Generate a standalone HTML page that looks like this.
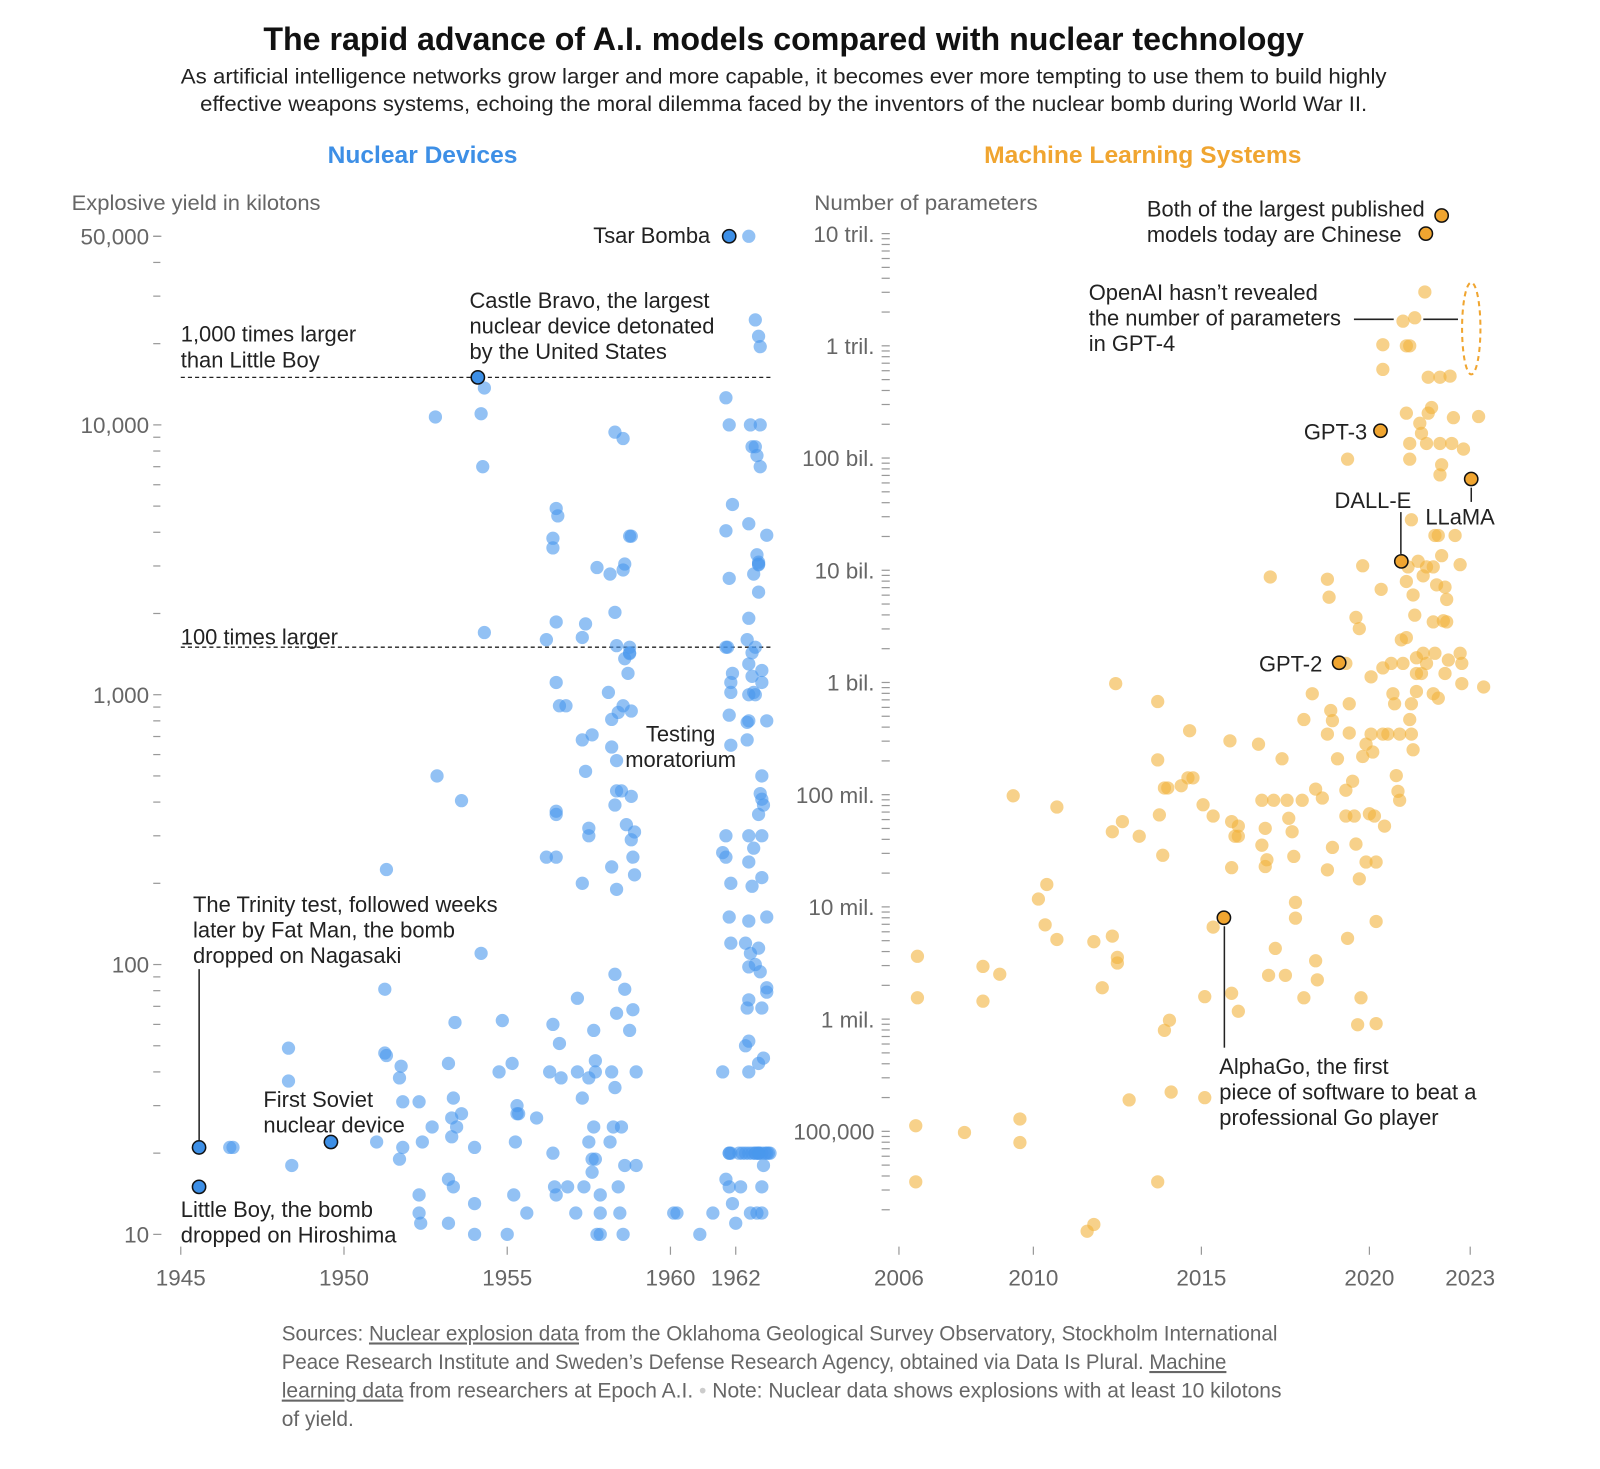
<!DOCTYPE html>
<html><head><meta charset="utf-8">
<style>
html,body{margin:0;padding:0;background:#fff;}
svg{display:block;font-family:"Liberation Sans",Arial,sans-serif;}
.ann{font-size:21.5px;fill:#222;}
.tick{font-size:22px;fill:#666;}
</style></head>
<body>
<svg id="chart" width="1600" height="1469" viewBox="0 0 1568 1440">
<text x="768" y="49" text-anchor="middle" font-size="32" font-weight="bold" fill="#111" textLength="1020" lengthAdjust="spacingAndGlyphs">The rapid advance of A.I. models compared with nuclear technology</text>
<text x="768" y="82" text-anchor="middle" font-size="21" fill="#222" textLength="1182" lengthAdjust="spacingAndGlyphs">As artificial intelligence networks grow larger and more capable, it becomes ever more tempting to use them to build highly</text>
<text x="768" y="109" text-anchor="middle" font-size="21" fill="#222" textLength="1144" lengthAdjust="spacingAndGlyphs">effective weapons systems, echoing the moral dilemma faced by the inventors of the nuclear bomb during World War II.</text>
<text x="414" y="160" text-anchor="middle" font-size="24" font-weight="bold" fill="#3d8fe6" textLength="186" lengthAdjust="spacingAndGlyphs">Nuclear Devices</text>
<text x="1120" y="160" text-anchor="middle" font-size="24" font-weight="bold" fill="#f0a530" textLength="311" lengthAdjust="spacingAndGlyphs">Machine Learning Systems</text>
<text x="70" y="206" font-size="21" fill="#666" textLength="244" lengthAdjust="spacingAndGlyphs">Explosive yield in kilotons</text>
<text x="798" y="206" font-size="21" fill="#666" textLength="219" lengthAdjust="spacingAndGlyphs">Number of parameters</text>
<g id="nuc"></g>
<g id="ml"></g>
<g id="anns"></g>
<g font-size="20.5" fill="#666">
<text x="276" y="1314" textLength="976" lengthAdjust="spacingAndGlyphs">Sources: <tspan text-decoration="underline">Nuclear explosion data</tspan> from the Oklahoma Geological Survey Observatory, Stockholm International</text>
<text x="276" y="1342" textLength="926" lengthAdjust="spacingAndGlyphs">Peace Research Institute and Sweden’s Defense Research Agency, obtained via Data Is Plural. <tspan text-decoration="underline">Machine</tspan></text>
<text x="276" y="1370" textLength="980" lengthAdjust="spacingAndGlyphs"><tspan text-decoration="underline">learning data</tspan> from researchers at Epoch A.I.  <tspan fill="#ccc">•</tspan>  Note: Nuclear data shows explosions with at least 10 kilotons</text>
<text x="276" y="1398">of yield.</text>
</g>
</svg>
<script>
// ---------- Nuclear data ----------
const nucYears = [1946.5,1946.6,1948.3,1948.3,1948.4,1951.25,1951.25,1951.3,1951.3,1951.75,1951.7,1951.8,1952.3,1951.8,1952.3,1951.7,1952.3,1952.35,1952.4,1951.0,
1952.8,1952.85,1952.7,1953.2,1953.35,1953.3,1953.35,1953.45,1953.3,1953.2,1953.4,1953.6,1953.6,1954.0,1953.2,
1954.2,1954.3,1954.25,1954.3,1954.2,1954.0,1954.0,1955.0,
1954.85,1954.75,1955.15,1955.3,1955.35,1955.3,1955.25,1955.2,1955.6,
1956.2,1956.2,1956.5,1956.55,1956.4,1956.4,1956.5,1956.5,1956.6,1956.8,1956.5,1956.5,1956.5,1956.4,1956.6,1956.3,1956.65,1955.9,1956.4,1956.45,1956.5,1956.85,
1957.75,1957.85,1957.75,1957.4,1957.3,1957.6,1957.3,1957.4,1957.5,1957.5,1957.3,1957.15,1957.65,1957.7,1957.7,1957.5,1957.3,1957.15,1957.5,1957.7,1957.6,1957.65,1957.6,1957.35,1957.1,1957.85,
1958.55,1958.45,1958.3,1958.55,1958.6,1958.75,1958.8,1958.55,1958.15,1958.3,1958.35,1958.75,1958.6,1958.75,1958.75,1958.7,1958.1,1958.55,1958.8,1958.4,1958.2,1958.35,1958.2,1958.5,1958.8,1958.35,1958.3,1958.65,1958.9,1958.8,1958.85,1958.2,1958.9,1958.35,1958.3,1958.6,1958.35,1958.85,1958.75,1958.95,1958.2,1958.3,1958.5,1958.25,1958.15,1958.6,1958.95,1958.4,1957.85,
1960.1,1960.2,1960.9,1961.3,
1961.85,1961.8,1961.85,1961.8,1961.7,1961.8,1961.9,1961.7,1961.8,1961.7,1961.75,1961.9,1961.85,1961.85,1961.8,1961.85,1961.7,1961.6,1961.7,1961.8,1961.85,1961.6,
1961.7,1961.8,1961.9,1962.0,1962.1,1962.2,1962.3,1962.4,1962.5,1962.6,1962.7,1962.8,1962.9,1963.0,1963.05,
1962.7,1962.95,1962.6,1962.7,1962.4,1962.6,1962.7,1962.75,1962.45,1962.75,1962.6,1962.5,1962.65,1962.75,1962.4,1962.95,1962.65,1962.7,1962.7,1962.7,1962.55,1962.7,1962.4,1962.35,1962.6,1962.5,1962.4,1962.8,1962.5,1962.8,1962.4,1962.55,1962.6,1962.4,1962.35,1962.95,1962.35,1962.8,1962.75,1962.8,1962.85,1962.7,1962.8,1962.4,1962.55,1962.4,1962.8,1962.5,1962.95,1962.4,1962.3,1962.7,1962.45,1962.6,1962.4,1962.75,1962.95,1962.95,1962.4,1962.35,1962.8,1962.4,1962.3,1962.85,1962.7,1962.4,1962.85,1962.8,1962.15,1962.65,1962.8,1962.45];
const nucYields = [21,21,49,37,18,81,47,46,225,42,38,31,31,21,14,19,12,11,22,22,
10700,500,25,16,15,27,32,25,23,43,61,28,405,10,11,
11000,13700,7000,1700,110,21,13,10,
62,40,43,30,28,28,22,14,12,
250,1600,4900,4600,3800,3500,1860,1110,910,910,370,360,250,60,51,40,38,27,20,15,14,15,10,10,
2960,1830,1630,710,680,520,320,300,200,75,57,40,44,38,32,40,22,19,19,25,17,15,12,12,10,12,
9400,8900,3050,3870,3870,2900,2800,2020,1520,1430,1360,1500,1420,1200,1020,910,870,860,810,570,640,440,420,440,390,330,310,290,250,230,215,190,92,81,66,68,57,40,40,35,25,25,22,18,18,15,14,12,12,10,12,
200,20,20,20,
12600,10000,5070,4050,2700,1500,1500,1200,1110,1020,840,650,300,260,250,150,120,40,16,15,13,11,
20,20,20,20,20,20,20,20,20,20,20,20,20,20,20,
50000,24500,21300,19500,10000,10000,8300,8300,7700,7000,4300,3900,3300,3050,3030,3100,2800,2400,1920,1600,1500,1430,1300,1230,1170,1110,1000,1020,1000,800,790,800,680,500,430,410,390,360,300,300,270,240,210,195,150,145,120,115,110,100,98,94,82,79,74,69,69,52,50,45,43,40,18,15,15,12,12,12,11,10,10,10];
const nucHi = [[1945.56,21,'trinity'],[1945.56,15,'little-boy'],[1949.6,22,'first-soviet'],[1954.1,15000,'castle-bravo'],[1961.8,50000,'tsar-bomba']];
const nucYTicks = [10,100,1000,10000,50000];
const nucYTickLabels = ['10','100','1,000','10,000','50,000'];
const nucXTicks = [1945,1950,1955,1960,1962];

// ---------- ML data ----------
const mlYears = [2006.55,2006.55,2006.5,2006.5,2007.95,2008.5,2008.5,2009,2009.4,2009.6,2009.6,2010.15,2010.4,2010.35,2010.7,2010.7,2011.6,2011.8,2011.8,2012.05,2012.35,2012.35,2012.45,2012.5,2012.5,2012.65,2012.85,2013.15,2013.7,2013.7,2013.75,2013.85,2013.9,2014,2013.9,2014.05,2014.1,2013.7,2014.4,2014.6,2014.75,2014.65,2015.05,2015.35,2015.35,2015.1,2015.1,2015.85,2015.9,2016,2016.1,2016.1,2015.9,2015.9,2016.1,
2017.05,2016.7,2016.8,2016.9,2016.8,2016.9,2016.95,2017.15,2017.2,2017,2017.5,2017.4,2017.55,2017.6,2017.7,2017.75,2017.8,2017.8,2018,2018.05,2018.45,2018.4,2018.3,2018.05,2018.4,2018.6,2018.75,2018.8,2018.75,2018.85,2018.75,2018.9,2018.9,2019.05,2019.3,2019.3,2019.3,2019.35,2019.35,2019.4,2019.4,2019.5,2019.55,2019.6,2019.7,2019.6,2019.7,2019.65,2019.75,2019.8,2019.8,2019.9,2019.9,2020,2020.05,2020.2,2020.05,2020.1,2020.15,2020.2,2020.2,
2020.35,2020.4,2020.4,2020.4,2020.4,2020.55,2020.45,2020.65,2020.7,2020.75,2020.8,2020.85,2020.9,2020.9,2020.95,2021,2021,2021.1,2021.2,2021.1,2021.2,2021.2,2021.25,2021.15,2021.1,2021.3,2021.1,2021.2,2021.25,2021.3,2021.25,2021.35,2021.45,2021.35,2021.4,2021.4,2021.4,2021.5,2021.55,2021.65,2021.7,2021.7,2021.6,2021.6,2021.55,2021.7,2021.75,2021.75,2021.85,2021.9,2021.9,2021.95,2021.9,2022.05,2022,2022.1,2022.1,2022.1,2022.15,2021.95,2022.05,2022.15,2022.25,2022.3,2022.2,2022.3,2022.35,2022.25,2022.45,2022.4,2022.55,2022.5,2022.7,2022.8,2022.7,2022.75,2022.75,2023.25,2023.4];
const mlLogParams = [6.56,6.19,5.05,4.55,4.99,6.47,6.16,6.4,7.99,5.11,4.9,7.07,7.2,6.84,6.71,7.89,4.11,4.17,6.69,6.28,6.74,7.67,8.99,6.55,6.5,7.76,5.28,7.63,8.83,8.31,7.82,7.46,8.06,8.06,5.9,5.99,5.35,4.55,8.08,8.15,8.15,8.57,7.91,7.81,6.82,5.3,6.2,8.48,7.76,7.63,7.72,7.63,7.35,6.23,6.07,
9.94,8.45,7.95,7.7,7.55,7.36,7.42,7.95,6.63,6.39,6.39,8.32,7.95,7.79,7.67,7.45,7.04,6.9,7.95,6.19,6.35,6.52,8.9,8.67,8.05,7.97,7.33,9.76,9.92,8.75,8.54,8.66,7.53,8.32,9.17,8.04,7.81,10.99,6.72,8.81,8.55,8.12,7.81,9.58,9.48,7.56,7.25,5.95,6.19,10.04,8.34,8.45,7.4,7.83,8.54,5.96,9.05,8.38,7.81,7.4,6.87,
9.83,9.13,12.01,11.79,8.54,8.54,7.72,9.17,8.9,8.81,8.17,8.03,7.95,8.54,9.38,9.17,12.22,12.0,12.0,11.4,11.13,10.99,10.45,10.03,9.9,9.78,9.4,8.67,8.54,8.4,8.81,12.25,10.08,9.6,9.22,9.08,8.92,11.31,11.22,12.48,11.13,10.03,9.95,9.26,9.08,9.17,11.72,11.4,11.45,9.54,8.9,9.26,10.03,8.86,9.87,11.13,11.72,10.85,10.94,10.31,10.31,10.13,9.85,9.74,9.55,9.54,9.2,9.08,11.13,11.73,10.31,11.36,10.05,11.08,9.26,9.17,8.99,11.37,8.96];
const mlHi = [[2020.33,1.75e11,'gpt-3'],[2023.03,6.5e10,'llama'],[2020.95,1.2e10,'dall-e'],[2019.1,1.5e9,'gpt-2'],[2015.67,8e6,'alphago'],[2022.15,1.45e13,'largest-chinese-model-1'],[2021.68,1e13,'largest-chinese-model-2']];
const mlYTicks = [1e5,1e6,1e7,1e8,1e9,1e10,1e11,1e12,1e13];
const mlYTickLabels = ['100,000','1 mil.','10 mil.','100 mil.','1 bil.','10 bil.','100 bil.','1 tril.','10 tril.'];
const mlXTicks = [2006,2010,2015,2020,2023];

const NS='http://www.w3.org/2000/svg';
function mk(tag,attrs,parent){const e=document.createElementNS(NS,tag);for(const k in attrs)e.setAttribute(k,attrs[k]);parent.appendChild(e);return e;}

const nx = y => 177 + (y-1945)*32;
const ny = v => 1210 - (Math.log10(v)-1)*264.5;
const mx = y => 881 + (y-2006)*32.94;
const my = v => 229 + (13-Math.log10(v))*110;

const nuc=document.getElementById('nuc');
const ml=document.getElementById('ml');
const anns=document.getElementById('anns');

for(let d=1; d<=4; d++){
  for(let m=2;m<=9;m++){
    const v=m*Math.pow(10,d); if(v>50000) continue;
    const t=mk('line',{x1:150,x2:157,y1:ny(v),y2:ny(v),stroke:'#999','stroke-width':1.2},nuc);
    
    
  }
}
nucYTicks.forEach((v,i)=>{
  const l=mk('line',{x1:150,x2:158,y1:ny(v),y2:ny(v),stroke:'#999','stroke-width':1.2},nuc);
  
  
  const t=mk('text',{x:146,y:ny(v)+8,'text-anchor':'end',class:'tick'},nuc);
  t.textContent=nucYTickLabels[i];
  
  
});
nucXTicks.forEach(y=>{
  const l=mk('line',{x1:nx(y),x2:nx(y),y1:1222,y2:1230,stroke:'#999','stroke-width':1.2},nuc);
  
  
  const t=mk('text',{x:nx(y),y:1260,'text-anchor':'middle',class:'tick'},nuc);
  t.textContent=y;
  
  
});
[[15000,'thousand-times-line'],[1500,'hundred-times-line']].forEach(r=>{
  const l=mk('line',{x1:177,x2:755,y1:ny(r[0]),y2:ny(r[0]),stroke:'#222','stroke-width':1.3,'stroke-dasharray':'4,3'},nuc);
  
  
});
nucYears.forEach((y,i)=>{
  const c=mk('circle',{cx:nx(y),cy:ny(nucYields[i]),r:6.5,fill:'#4a97ec','fill-opacity':0.6},nuc);
  
  
});
nucHi.forEach(h=>{
  const c=mk('circle',{cx:nx(h[0]),cy:ny(h[1]),r:6.5,fill:'#3d8fe6',stroke:'#111','stroke-width':1.5},nuc);
  
  
});

for(let d=4; d<=12; d++){
  for(let m=2;m<=9;m++){
    const v=m*Math.pow(10,d); if(v<2e4) continue;
    const t=mk('line',{x1:864,x2:872,y1:my(v),y2:my(v),stroke:'#999','stroke-width':1.2},ml);
    
    
  }
}
mlYTicks.forEach((v,i)=>{
  const l=mk('line',{x1:864,x2:872,y1:my(v),y2:my(v),stroke:'#999','stroke-width':1.2},ml);
  
  
  const t=mk('text',{x:857,y:my(v)+8,'text-anchor':'end',class:'tick'},ml);
  t.textContent=mlYTickLabels[i];
  
  
});
mlXTicks.forEach(y=>{
  const l=mk('line',{x1:mx(y),x2:mx(y),y1:1222,y2:1230,stroke:'#999','stroke-width':1.2},ml);
  
  
  const t=mk('text',{x:mx(y),y:1260,'text-anchor':'middle',class:'tick'},ml);
  t.textContent=y;
  
  
});
mlYears.forEach((y,i)=>{
  const c=mk('circle',{cx:mx(y),cy:my(Math.pow(10,mlLogParams[i])),r:6.5,fill:'#f2b23c','fill-opacity':0.6},ml);
  
  
});
mlHi.forEach(h=>{
  const c=mk('circle',{cx:mx(h[0]),cy:my(h[1]),r:6.5,fill:'#f0a530',stroke:'#111','stroke-width':1.5},ml);
  
  
});
const ov=mk('ellipse',{cx:1442,cy:322,rx:9,ry:45,fill:'none',stroke:'#f0a530','stroke-width':2,'stroke-dasharray':'5,4'},ml);



function txt(lines,x,y,anchor,name){
  const t=mk('text',{x:x,y:y,class:'ann','text-anchor':anchor||'start'},anns);
  
  
  lines.forEach((s,i)=>{const ts=mk('tspan',{x:x,dy:i?25:0},t);ts.textContent=s;});
}
function ln(x1,y1,x2,y2,name){
  const l=mk('line',{x1:x1,y1:y1,x2:x2,y2:y2,stroke:'#222','stroke-width':1.5},anns);
  
  
}
txt(['Tsar Bomba'],696,238,'end','tsar-bomba-label');
txt(['Castle Bravo, the largest','nuclear device detonated','by the United States'],460,302,'start','castle-bravo-label');
txt(['1,000 times larger','than Little Boy'],177,335,'start','thousand-times-label');
txt(['100 times larger'],177,632,'start','hundred-times-label');
txt(['Testing','moratorium'],667,727,'middle','testing-moratorium-label');
txt(['The Trinity test, followed weeks','later by Fat Man, the bomb','dropped on Nagasaki'],189,894,'start','trinity-label');
ln(195,950,195,1118,'trinity-leader');
txt(['First Soviet','nuclear device'],258,1085,'start','first-soviet-label');
txt(['Little Boy, the bomb','dropped on Hiroshima'],177,1193,'start','little-boy-label');
txt(['Both of the largest published','models today are Chinese'],1124,212,'start','chinese-models-label');
txt(['OpenAI hasn’t revealed','the number of parameters','in GPT-4'],1067,294,'start','gpt-4-label');
ln(1327,313,1366,313,'gpt-4-leader-left');
ln(1395,313,1429,313,'gpt-4-leader-right');
txt(['GPT-3'],1340,431,'end','gpt-3-label');
txt(['DALL-E'],1308,498,'start','dall-e-label');
ln(1373,502,1373,543,'dall-e-leader');
txt(['LLaMA'],1397,514,'start','llama-label');
ln(1442,478,1442,492,'llama-leader');
txt(['GPT-2'],1296,658,'end','gpt-2-label');
ln(1200,908,1200,1027,'alphago-leader');
txt(['AlphaGo, the first','piece of software to beat a','professional Go player'],1195,1053,'start','alphago-label');
</script>
</body></html>
